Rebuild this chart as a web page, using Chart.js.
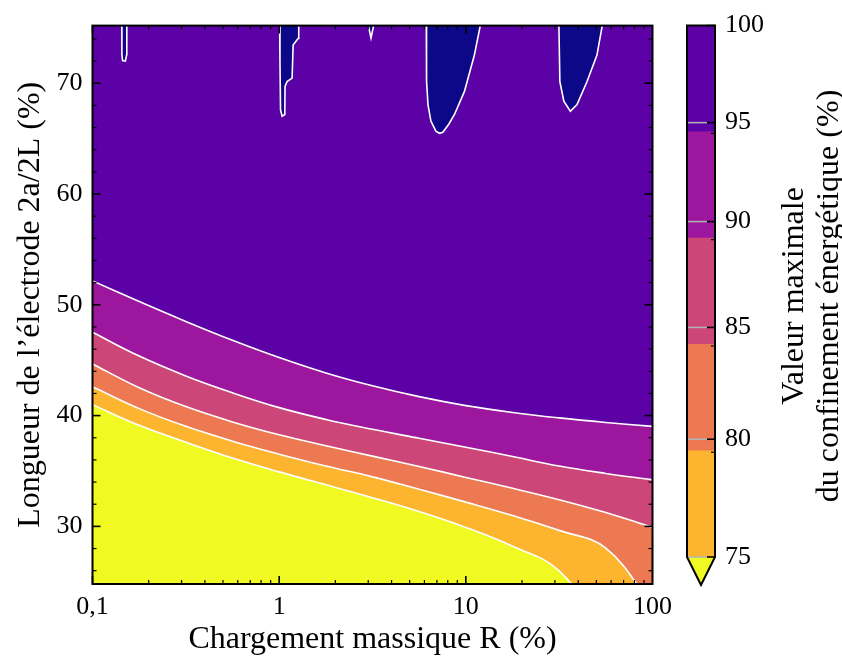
<!DOCTYPE html>
<html>
<head>
<meta charset="utf-8">
<script src="https://cdn.jsdelivr.net/npm/chart.js@4/dist/chart.umd.min.js"></script>
<style>
  html, body { margin: 0; padding: 0; background: #fff; }
  #wrap { position: relative; width: 842px; height: 659px; }
  #main { position: absolute; left: 0; top: 0; }
  #cbar { position: absolute; left: 680px; top: 0; }
</style>
</head>
<body>
<div id="wrap">
  <canvas id="main" width="680" height="659"></canvas>
  <canvas id="cbar" width="162" height="659"></canvas>
</div>
<script>
// mass loading R (%) where each contour line is sampled (quarter decades)
const loading = [0.1, 0.178, 0.316, 0.562, 1, 1.78, 3.16, 5.62, 10, 17.8, 31.6, 56.2, 100];

// electrode length 2a/2L (%) where the max confinement crosses each level
const level95 = [52.16, 50.29, 48.50, 46.80, 45.24, 43.85, 42.69, 41.71, 40.90, 40.28, 39.79, 39.38, 39.03];
const level90 = [47.52, 45.37, 43.58, 42.06, 40.72, 39.65, 38.76, 37.95, 37.15, 36.30, 35.45, 34.78, 34.20];
const level85 = [44.66, 42.51, 40.81, 39.43, 38.27, 37.28, 36.34, 35.41, 34.42, 33.44, 32.41, 31.25, 29.91];
const level80 = [42.60, 40.63, 39.03, 37.69, 36.52, 35.45, 34.47, 33.35, 32.19, 30.98, 29.64, 28.03, 22.85];
const level75 = [40.99, 39.12, 37.60, 36.17, 34.92, 33.75, 32.59, 31.34, 29.91, 28.21, 25.98, 20.26, 13.56];

// small pockets above the top level, hanging from the upper edge
const pocketAx = [0.1436, 0.1437, 0.1450, 0.1500, 0.1526, 0.1527];
const pocketAy = [75.5, 72.6, 72.05, 72.0, 72.6, 75.5];
const pocketBx = [1.005, 1.010, 1.017, 1.037, 1.072, 1.075, 1.103, 1.173, 1.188, 1.262, 1.273];
const pocketBy = [75.5, 72.0, 67.6, 67.02, 67.18, 69.71, 70.15, 70.46, 73.44, 74.03, 75.5];
const pocketCx = [2.98, 3.105, 3.233];
const pocketCy = [75.5, 74.08, 75.5];
const pocketDx = [6.14, 6.15, 6.17, 6.27, 6.50, 6.91, 7.23, 7.53, 8.10, 8.69, 9.83, 11.11, 12.05];
const pocketDy = [75.5, 73.0, 70.2, 68.07, 66.58, 65.68, 65.48, 65.57, 66.30, 67.18, 69.26, 72.54, 75.5];
const pocketEx = [31.5, 31.9, 33.5, 36.3, 39.4, 44.6, 50.4, 54.2];
const pocketEy = [75.5, 70.15, 68.37, 67.47, 68.07, 70.15, 72.54, 75.5];

// axis ticks
const xTicks = [0.1, 1, 10, 100];
const xTickLabels = ['0,1', '1', '10', '100'];
const yTicks = [30, 40, 50, 60, 70];

// colorbar: five equal bands, labels sit where the levels fall on it
const cbBands = [1, 1, 1, 1, 1];
const cbColors = ['#fdb42f', '#ed7953', '#cc4778', '#9c179e', '#5c01a6'];
const cbTickPos = [0, 1.108, 2.16, 3.156, 4.087, 5];
const cbTickLabels = ['75', '80', '85', '90', '95', '100'];

const SERIF = "'Liberation Serif', 'Times New Roman', serif";
const NAVY = '#0d0887';
const YELLOW = '#f0f921';

const toXY = (xs, ys) => xs.map((x, i) => ({ x: x, y: ys[i] }));

function contour(ys, fill, color) {
  return {
    data: toXY(loading, ys), fill: fill, backgroundColor: color,
    borderColor: '#fff', borderWidth: 1.6, pointRadius: 0, tension: 0.4
  };
}

function pocket(xs, ys) {
  return {
    data: toXY(xs, ys), fill: 'end', backgroundColor: NAVY,
    borderColor: '#fff', borderWidth: 1.6, pointRadius: 0, tension: 0
  };
}

// inward ticks on all four sides + black frame
const frameTicks = {
  id: 'frameTicks',
  afterDraw(chart) {
    const { ctx, chartArea: a, scales: { x, y } } = chart;
    ctx.save();
    ctx.strokeStyle = '#000';
    const seg = (x0, y0, x1, y1, w) => {
      ctx.lineWidth = w;
      ctx.beginPath(); ctx.moveTo(x0, y0); ctx.lineTo(x1, y1); ctx.stroke();
    };
    [0.1, 1, 10].forEach(d => {
      for (let k = 1; k < 10; k++) {
        const px = x.getPixelForValue(d * k);
        const len = k === 1 ? 8 : 4;
        const w = k === 1 ? 1.6 : 1.2;
        seg(px, a.bottom, px, a.bottom - len, w);
        seg(px, a.top, px, a.top + len, w);
      }
    });
    for (let v = 26; v <= 74; v += 2) {
      const py = y.getPixelForValue(v);
      const major = v % 10 === 0;
      const len = major ? 8 : 4;
      const w = major ? 1.6 : 1.2;
      seg(a.left, py, a.left + len, py, w);
      seg(a.right, py, a.right - len, py, w);
    }
    ctx.lineWidth = 2;
    ctx.strokeRect(a.left, a.top, a.right - a.left, a.bottom - a.top);
    ctx.restore();
  }
};

new Chart(document.getElementById('main'), {
  type: 'line',
  data: {
    datasets: [
      pocket(pocketAx, pocketAy),
      pocket(pocketBx, pocketBy),
      pocket(pocketCx, pocketCy),
      pocket(pocketDx, pocketDy),
      pocket(pocketEx, pocketEy),
      contour(level95, 'end', '#5c01a6'),
      contour(level90, 5, '#9c179e'),
      contour(level85, 6, '#cc4778'),
      contour(level80, 7, '#ed7953'),
      contour(level75, 8, '#fdb42f'),
      Object.assign(contour(level75, 'start', YELLOW), { borderColor: 'rgba(0,0,0,0)', borderWidth: 0 })
    ]
  },
  options: {
    responsive: false,
    animation: false,
    events: [],
    elements: { line: { capBezierPoints: false } },
    layout: { padding: { top: 20, right: 24, bottom: 0, left: 0 } },
    plugins: {
      legend: { display: false },
      tooltip: { enabled: false },
      filler: { drawTime: 'beforeDatasetsDraw' }
    },
    scales: {
      x: {
        type: 'logarithmic', min: 0.1, max: 100,
        afterBuildTicks: s => { s.ticks = xTicks.map(v => ({ value: v })); },
        afterFit: s => { s.height = 75; },
        grid: { display: false, drawTicks: false },
        border: { display: false },
        ticks: {
          callback: (v, i) => xTickLabels[i],
          font: { family: SERIF, size: 26 }, color: '#000',
          padding: 8, maxRotation: 0, autoSkip: false
        },
        title: {
          display: true, text: 'Chargement massique R (%)',
          font: { family: SERIF, size: 32 }, color: '#000',
          padding: { top: 0, bottom: 0 }
        }
      },
      y: {
        type: 'linear', min: 24.8, max: 75.2,
        afterBuildTicks: s => { s.ticks = yTicks.map(v => ({ value: v })); },
        afterFit: s => { s.width = 92.5; },
        grid: { display: false, drawTicks: false },
        border: { display: false },
        ticks: { font: { family: SERIF, size: 26 }, color: '#000', padding: 10 },
        title: {
          display: true, text: 'Longueur de l’électrode 2a/2L (%)',
          font: { family: SERIF, size: 32 }, color: '#000',
          padding: { top: 11, bottom: 0 }
        }
      }
    }
  },
  plugins: [frameTicks]
});

// colorbar decorations: level lines, inward ticks, lower extension, frame, title
const cbDecor = {
  id: 'cbDecor',
  afterDraw(chart) {
    const { ctx, chartArea: a, scales: { y } } = chart;
    ctx.save();
    const seg = (x0, y0, x1, y1, w, c) => {
      ctx.lineWidth = w; ctx.strokeStyle = c;
      ctx.beginPath(); ctx.moveTo(x0, y0); ctx.lineTo(x1, y1); ctx.stroke();
    };
    const tip = a.bottom + 28;
    const mid = (a.left + a.right) / 2;
    ctx.fillStyle = YELLOW;
    ctx.beginPath();
    ctx.moveTo(a.left, a.bottom); ctx.lineTo(a.right, a.bottom); ctx.lineTo(mid, tip);
    ctx.closePath(); ctx.fill();
    cbTickPos.forEach(v => {
      const py = y.getPixelForValue(v);
      if (v < 5) seg(a.left, py, a.right - 8, py, 1.5, '#b4b4b4');
      seg(a.right, py, a.right - 8, py, 1.6, '#000');
    });
    for (let b = 1; b < cbBands.length; b++) {
      const py = y.getPixelForValue(b) + 1.5;
      seg(a.right, py, a.right - 4, py, 1.2, '#000');
    }
    ctx.lineWidth = 2; ctx.strokeStyle = '#000'; ctx.lineJoin = 'miter';
    ctx.beginPath();
    ctx.moveTo(a.left, a.top); ctx.lineTo(a.right, a.top); ctx.lineTo(a.right, a.bottom);
    ctx.lineTo(mid, tip); ctx.lineTo(a.left, a.bottom); ctx.closePath();
    ctx.stroke();

    ctx.fillStyle = '#000';
    ctx.font = '32px ' + SERIF;
    ctx.textAlign = 'center';
    ctx.textBaseline = 'middle';
    ctx.translate(795 - 680, 296);
    ctx.rotate(-Math.PI / 2);
    ctx.fillText('Valeur maximale', 0, 0);
    ctx.fillText('du confinement énergétique (%)', 0, 35);
    ctx.restore();
  }
};

new Chart(document.getElementById('cbar'), {
  type: 'bar',
  data: {
    labels: [''],
    datasets: cbBands.map((v, i) => ({
      data: [v], backgroundColor: cbColors[i], borderWidth: 0,
      barPercentage: 1, categoryPercentage: 1
    }))
  },
  options: {
    responsive: false,
    animation: false,
    events: [],
    layout: { padding: { top: 20, right: 0, bottom: 102, left: 7 } },
    plugins: { legend: { display: false }, tooltip: { enabled: false } },
    scales: {
      x: { display: false, stacked: true },
      y: {
        stacked: true, position: 'right', min: 0, max: 5,
        afterBuildTicks: s => { s.ticks = cbTickPos.map(v => ({ value: v })); },
        afterFit: s => { s.width = 127; },
        grid: { display: false, drawTicks: false },
        border: { display: false },
        ticks: {
          callback: (v, i) => cbTickLabels[i],
          font: { family: SERIF, size: 26 }, color: '#000', padding: 10
        }
      }
    }
  },
  plugins: [cbDecor]
});
</script>
</body>
</html>
